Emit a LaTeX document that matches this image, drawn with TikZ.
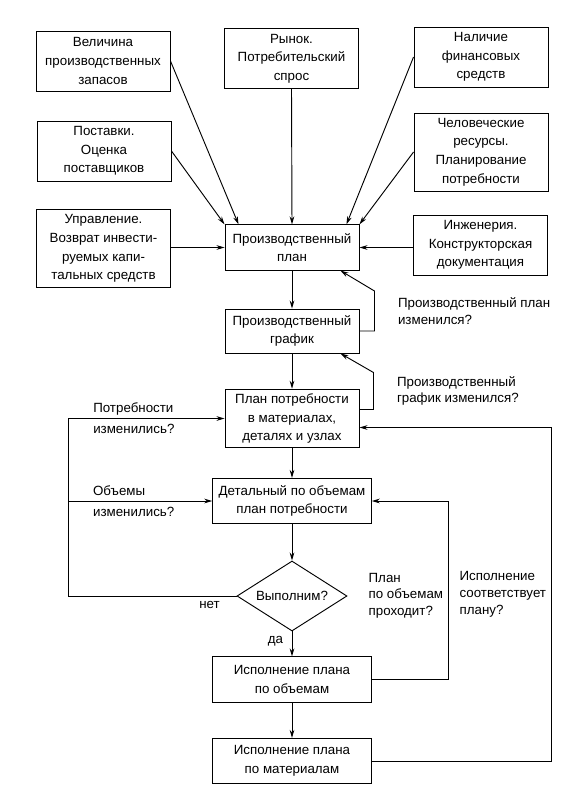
\documentclass[tikz,border=0pt]{standalone}
\usepackage{fontspec}
\setmainfont{Liberation Sans}
\usetikzlibrary{calc, shapes.geometric, arrows.meta}

\begin{document}
\begin{tikzpicture}[
        x=0.75pt, y=-0.75pt,
        font=\fontsize{10}{14}\selectfont,
        blk/.style={rectangle, draw=black, line width=0.7pt, align=center,
            minimum width=100.5pt, minimum height=45pt, inner sep=2pt},
        wide/.style={blk, minimum width=119pt, minimum height=34pt},
        dec/.style={diamond, aspect=1.6, draw=black, line width=0.7pt,
            minimum width=82.5pt, minimum height=52.5pt, inner sep=0pt},
        lbl/.style={align=left, font=\fontsize{10}{12.5}\selectfont},
        side/.style={align=left, font=\fontsize{10}{15.5}\selectfont},
        arr/.style={-{Stealth[length=6pt, width=3.5pt]}, line width=0.7pt}
    ]
    \useasboundingbox (0,0) rectangle (576,797);
    % sources
    \node[blk] (stock)   at (103,61)    {Величина\\производственных\\запасов};
    \node[blk] (market)  at (291.5,58.5) {Рынок.\\Потребительский\\спрос};
    \node[blk] (finance) at (481,57)    {Наличие\\финансовых\\средств};
    \node[blk] (supply)  at (104,151)   {Поставки.\\Оценка\\поставщиков};
    \node[blk, minimum height=58.5pt] (staff) at (481,152) {Человеческие\\ресурсы.\\Планирование\\потребности};
    \node[blk, minimum height=59pt] (mgmt) at (103.5,248.5) {Управление.\\Возврат инвести-\\руемых капи-\\тальных средств};
    \node[blk] (engin)   at (480.5,245) {Инженерия.\\Конструкторская\\документация};
    % main column
    \node[blk, minimum height=34pt] (plan)  at (292,247.5) {Производственный\\план};
    \node[blk, minimum height=33pt] (sched) at (292,331)   {Производственный\\график};
    \node[blk, minimum height=44pt] (mrp)   at (292,418.5) {План потребности\\в материалах,\\деталях и узлах};
    \node[wide] (vol)   at (292,501)   {Детальный по объемам\\план потребности};
    \node[dec]  (feas)  at (292,596)   {Выполним?};
    \node[wide] (execv) at (292,679.5) {Исполнение плана\\по объемам};
    \node[wide] (execm) at (292,761)   {Исполнение плана\\по материалам};
    \coordinate (L) at (68,0);
    \coordinate (M) at (448,0);
    \coordinate (R) at (551,0);

    \draw[arr] (stock.east) -- ($(plan.north west)+(14,0)$);
    \draw[arr] (supply.east) -- (plan.north west);
    \draw[arr] (market.south) -- (plan.north);
    \draw[arr] (finance.west) -- ($(plan.north east)+(-13,0)$);
    \draw[arr] (staff.west) -- (plan.north east);
    \draw[arr] (plan.west -| mgmt.east) -- (plan.west);
    \draw[arr] (plan.east -| engin.west) -- (plan.east);

    \draw[arr] (plan) -- (sched);
    \draw[arr] (sched) -- (mrp);
    \draw[arr] (mrp) -- (vol);
    \draw[arr] (vol) -- (feas);
    \draw[arr] (feas) -- node[pos=0.4, left=3pt]{да} (execv);
    \draw[arr] (execv) -- (execm);

    \draw[arr] (sched.east) -- ++(15,0)
        -- node[midway, anchor=west, xshift=14pt, lbl]{Производственный план\\изменился?} ++(0,-40)
        -- ($(plan.south east)+(-19,0)$);
    \draw[arr] ($(mrp.east)+(0,-9)$) -- ++(14,0)
        -- node[midway, anchor=west, xshift=14pt, lbl]{Производственный\\график изменился?} ++(0,-37)
        -- ($(sched.south east)+(-19,0)$);

    \draw[arr] (feas.west) -- node[pos=0.16, below]{нет} (L |- feas.west) -- (L |- mrp.west)
        -- node[pos=0.13, anchor=west, side]{Потребности\\изменились?} (mrp.west);
    \draw[arr] (L |- vol.west) -- node[pos=0.14, anchor=west, side]{Объемы\\изменились?} (vol.west);

    \draw[arr] (execv.east) -- (M |- execv.east)
        -- node[pos=0.47, left, lbl]{План\\по объемам\\проходит?} (M |- vol.east) -- (vol.east);
    \draw[arr] (execm.east) -- (R |- execm.east)
        -- node[pos=0.5, left, lbl]{Исполнение\\соответствует\\плану?} ($(R |- mrp.east)+(0,9)$)
        -- ($(mrp.east)+(0,9)$);
\end{tikzpicture}
\end{document}
